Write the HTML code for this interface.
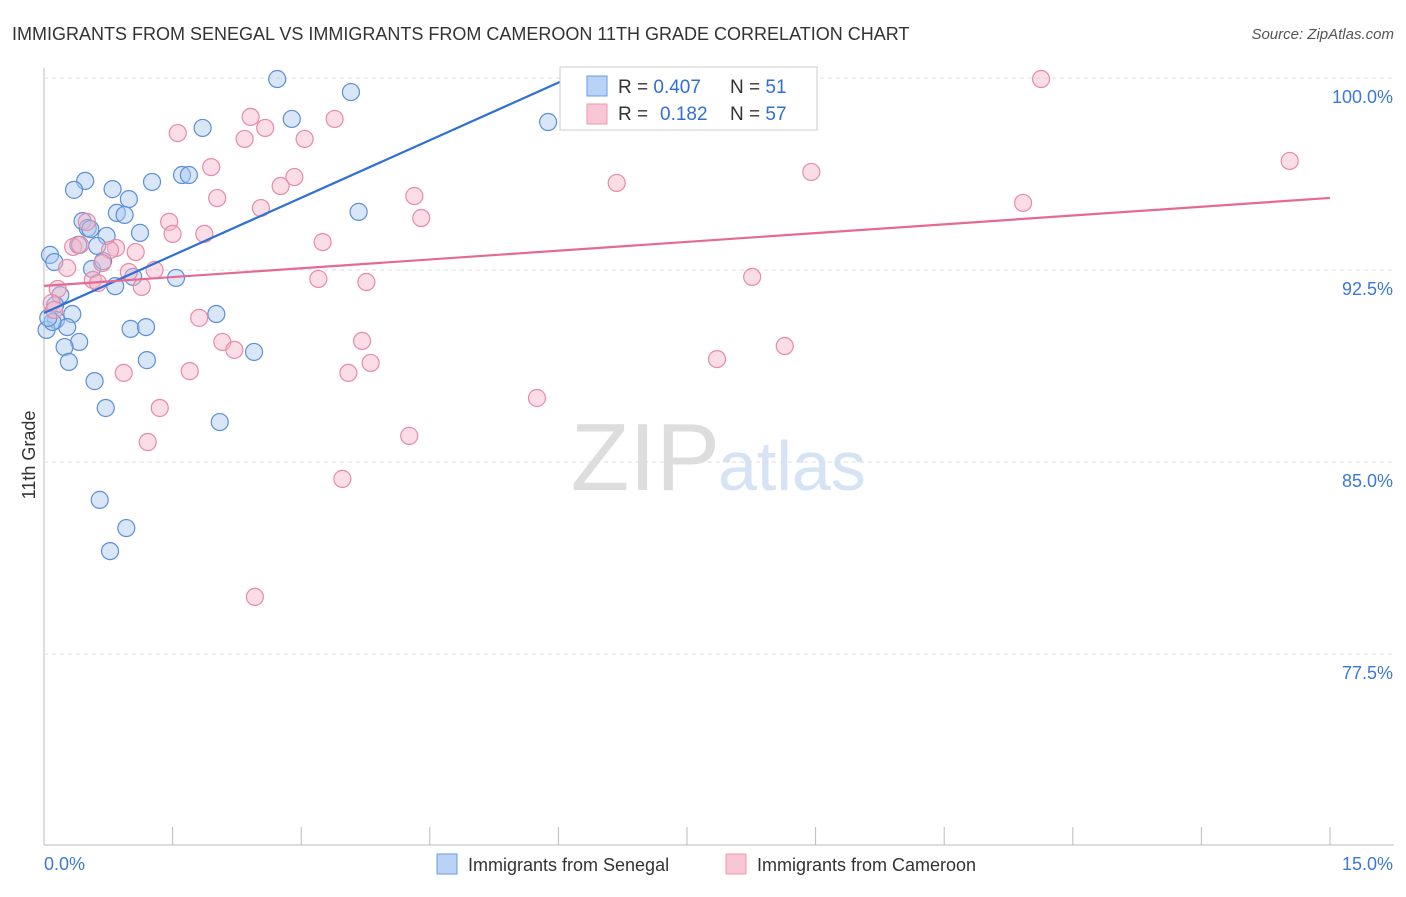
<!DOCTYPE html>
<html><head><meta charset="utf-8"><style>
body{margin:0;background:#fff;font-family:"Liberation Sans",sans-serif}
svg text{font-family:"Liberation Sans",sans-serif}
</style></head><body>
<svg id="c" width="1406" height="892">
<text x="12" y="40" font-size="18" fill="#333">IMMIGRANTS FROM SENEGAL VS IMMIGRANTS FROM CAMEROON 11TH GRADE CORRELATION CHART</text>
<text x="1394" y="39" font-size="15" fill="#555" font-style="italic" text-anchor="end">Source: ZipAtlas.com</text>
<text x="35" y="455" font-size="18" fill="#333" text-anchor="middle" transform="rotate(-90 35 455)">11th Grade</text>
<text x="720" y="490" font-size="96" fill="#ddd" font-family="Liberation Serif" text-anchor="end">ZIP</text>
<text x="718" y="490" font-size="70" fill="#d5e3f5">atlas</text>
<g id="grid"></g><g id="pts"></g><g id="lines"></g>
<g>
<rect x="560" y="67" width="257" height="63" fill="#fff" stroke="#ccc"/>
<rect x="587" y="76" width="20" height="20" fill="#b8d3f5" stroke="#6a9be0"/>
<rect x="587" y="104" width="20" height="20" fill="#f9c6d5" stroke="#ec98b2"/>
<text x="618" y="93" font-size="19" fill="#333">R = <tspan fill="#2f6fd6">0.407</tspan><tspan x="730">N = </tspan><tspan fill="#2f6fd6">51</tspan></text>
<text x="618" y="120" font-size="19" fill="#333">R = <tspan x="660" fill="#2f6fd6">0.182</tspan><tspan x="730">N = </tspan><tspan fill="#2f6fd6">57</tspan></text>
</g>
<g>
<rect x="437" y="854" width="20" height="20" fill="#b8d3f5" stroke="#6a9be0"/>
<text x="468" y="871" font-size="18" fill="#333">Immigrants from Senegal</text>
<rect x="726" y="854" width="20" height="20" fill="#f9c6d5" stroke="#ec98b2"/>
<text x="757" y="871" font-size="18" fill="#333">Immigrants from Cameroon</text>
</g>
</svg>
<script>
const xTicks=[0,1.5,3,4.5,6,7.5,9,10.5,12,13.5,15];
const xTickLabels=["0.0%","15.0%"];
const yTicks=[100,92.5,85,77.5];
const yTickLabels=["100.0%","92.5%","85.0%","77.5%"];
const senX=[2.72,3.58,5.88,2.89,1.85,1.61,1.69,1.26,0.48,0.35,0.80,0.99,0.85,0.94,3.67,0.45,0.51,0.54,0.73,1.12,0.62,0.40,0.07,0.12,0.56,0.69,1.04,1.54,0.83,0.19,0.13,0.33,2.01,0.14,0.27,1.01,1.19,0.03,0.41,0.24,1.20,0.29,2.45,0.59,0.72,2.05,0.65,0.96,0.77,0.10,0.05];
const senY=[99.96,99.45,98.28,98.40,98.05,96.21,96.21,95.94,95.98,95.63,95.66,95.27,94.73,94.65,94.77,94.41,94.14,94.10,93.83,93.95,93.44,93.48,93.09,92.81,92.54,92.85,92.23,92.19,91.87,91.52,91.13,90.78,90.78,90.55,90.27,90.20,90.27,90.16,89.69,89.49,88.98,88.91,89.30,88.16,87.11,86.56,83.52,82.42,81.52,90.47,90.63];
const camX=[11.63,14.53,2.41,3.39,2.58,1.56,2.34,3.04,1.95,2.92,2.76,6.68,8.95,2.02,4.32,11.42,2.53,0.50,1.46,4.40,1.50,1.87,3.25,0.34,0.42,0.84,1.07,0.77,0.27,0.68,0.99,1.29,0.57,0.63,1.14,3.20,3.76,8.26,0.16,0.09,0.12,1.81,2.08,2.22,3.71,8.64,7.85,3.81,0.93,1.70,3.55,5.75,1.35,1.21,4.26,3.48,2.46];
const camY=[99.96,96.76,98.48,98.40,98.05,97.85,97.62,97.62,96.52,96.13,95.78,95.90,96.33,95.31,95.39,95.12,94.92,94.38,94.38,94.53,93.91,93.91,93.59,93.40,93.48,93.36,93.20,93.28,92.58,92.77,92.42,92.50,92.11,91.99,91.84,92.15,92.03,92.23,91.76,91.21,90.94,90.63,89.69,89.38,89.73,89.53,89.02,88.87,88.48,88.55,88.48,87.50,87.11,85.78,86.02,84.34,79.73];
const senTrend=[90.82,1.50];
const camTrend=[91.88,0.229];
const X0=44,X1=1330,Y0=78,YS=192/7.5;
const sx=v=>X0+(v/15)*(X1-X0);
const sy=v=>Y0+(100-v)*YS;
const NS="http://www.w3.org/2000/svg";
function mk(t,a,p){const e=document.createElementNS(NS,t);for(const k in a)e.setAttribute(k,a[k]);p.appendChild(e);return e;}
const grid=document.getElementById('grid');
let ax=mk('line',{x1:X0,y1:68,x2:X0,y2:845,stroke:'#bbb'},grid);


let bx=mk('line',{x1:X0,y1:845,x2:1394,y2:845,stroke:'#bbb'},grid);


yTicks.forEach((v,i)=>{
 const g=mk('line',{x1:X0,y1:sy(v),x2:1394,y2:sy(v),stroke:'#ddd','stroke-dasharray':'4,4'},grid);
 
 
 const t=mk('text',{x:1393,y:sy(v)+25,'font-size':18,fill:'#3b78d8','text-anchor':'end'},grid);
 t.textContent=yTickLabels[i];
 
 
});
xTicks.forEach(v=>{
 const l=mk('line',{x1:sx(v),y1:827,x2:sx(v),y2:845,stroke:'#bbb'},grid);
 
 
});
[[0,'start',44],[15,'end',1393]].forEach((d,i)=>{
 const t=mk('text',{x:d[2],y:870,'font-size':18,fill:'#3b78d8','text-anchor':d[1]},grid);
 t.textContent=xTickLabels[i];
 
 
});
const pts=document.getElementById('pts');
function dots(xs,ys,fill,stroke,name){
 xs.forEach((x,i)=>{
  const c=mk('circle',{cx:sx(x),cy:sy(ys[i]),r:8.5,fill:fill,'fill-opacity':0.45,stroke:stroke,'stroke-width':1.2},pts);
  
  
 });
}
dots(senX,senY,'#a9c8f0','#5b8fd8','senegal-point');
dots(camX,camY,'#f5b3c7','#e88aa5','cameroon-point');
const lines=document.getElementById('lines');
function trend(tr,color,name){
 let xe=15;const ye=tr[0]+tr[1]*15;
 if(ye>100)xe=(100-tr[0])/tr[1];
 const l=mk('line',{x1:sx(0),y1:sy(tr[0]),x2:sx(xe),y2:sy(tr[0]+tr[1]*xe),stroke:color,'stroke-width':2.2},lines);
 
 
}
trend(senTrend,'#2f6fd6','senegal-trend-line');
trend(camTrend,'#e46a93','cameroon-trend-line');
</script>
</body></html>
